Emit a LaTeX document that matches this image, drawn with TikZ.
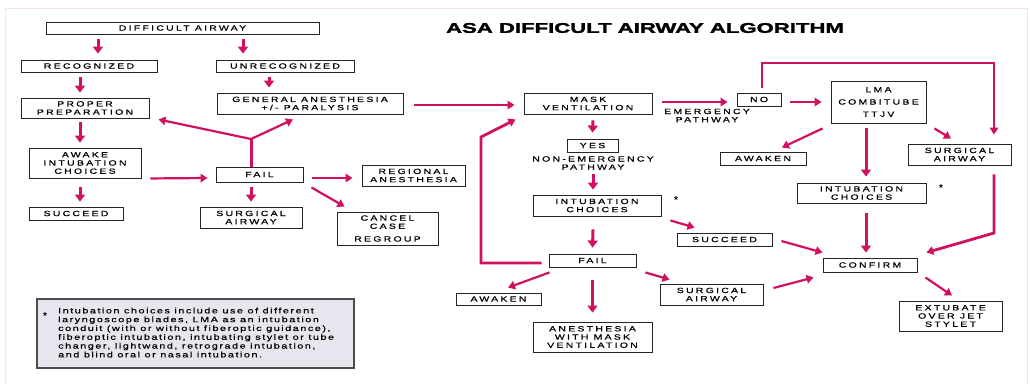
\documentclass[tikz,border=0pt]{standalone}
\usepackage{fontspec}
\setmainfont{Liberation Sans}
\newfontfamily\labelfont[LetterSpace=30,FakeStretch=1.4,FakeBold=0.8]{Liberation Sans}
\newfontfamily\notefont[LetterSpace=19,FakeStretch=1.4,FakeBold=0.5]{Liberation Sans}
\newfontfamily\titlefont[FakeStretch=1.58,FakeBold=2]{Liberation Sans Bold}
\usetikzlibrary{arrows.meta}
\definecolor{arrowpink}{RGB}{208,16,96}
\definecolor{notegrey}{RGB}{230,230,238}
\definecolor{framepink}{RGB}{245,228,240}

\begin{document}
\begin{tikzpicture}[x=1pt,y=-1pt,
    box/.style={draw=black!85, line width=0.9pt, rectangle, inner sep=0pt, align=center, font=\labelfont\fontsize{7.5}{8.2}\selectfont},
    plain/.style={inner sep=0pt, align=center, font=\labelfont\fontsize{7.5}{8.2}\selectfont},
    star/.style={inner sep=0pt, font=\bfseries\fontsize{10}{10}\selectfont},
    link/.style={draw=arrowpink, line width=2.2pt},
    arr/.style={link, -{Triangle[length=7pt,width=8.5pt]}},
    varr/.style={arr, line width=3pt, -{Triangle[length=7pt,width=10pt]}}]
    \useasboundingbox (0,0) rectangle (1030,384);
    \draw[framepink, line width=1pt] (5,384) -- (5,8) -- (1027,8) -- (1027,384);

    \node[font=\titlefont\fontsize{14}{14}\selectfont] (title) at (645,28) {ASA DIFFICULT AIRWAY ALGORITHM};

    % Left side
    \node[box, minimum width=273, minimum height=12] (difficult) at (182.5,28) {DIFFICULT AIRWAY};
    \node[box, minimum width=136, minimum height=12] (recognized) at (89,66) {RECOGNIZED};
    \node[box, minimum width=138, minimum height=12] (unrecognized) at (285,66) {UNRECOGNIZED};
    \node[box, minimum width=128, minimum height=20] (proper) at (85,108) {PROPER\\PREPARATION};
    \node[box, minimum width=112, minimum height=30] (awake) at (85,163) {AWAKE\\INTUBATION\\CHOICES};
    \node[box, minimum width=94, minimum height=13] (succeed1) at (76,213.5) {SUCCEED};
    \node[box, minimum width=186, minimum height=21] (general) at (310,103.5) {GENERAL ANESTHESIA\\+/- PARALYSIS};
    \node[box, minimum width=87, minimum height=15] (fail1) at (259.5,174.5) {FAIL};
    \node[box, minimum width=102, minimum height=21] (surgical1) at (251,217.5) {SURGICAL\\AIRWAY};
    \node[box, minimum width=103, minimum height=21] (regional) at (413.5,175.5) {REGIONAL\\ANESTHESIA};
    \node[box, minimum width=101, minimum height=33] (cancel) at (387.5,228.5) {CANCEL\\CASE\\[4.5pt]REGROUP};

    % Non-emergency pathway
    \node[box, minimum width=128, minimum height=21] (mask) at (588,103.5) {MASK\\VENTILATION};
    \node[box, minimum width=51, minimum height=13] (yes) at (592.5,145.5) {YES};
    \node[plain] (nonemergency) at (593,163) {NON-EMERGENCY\\PATHWAY};
    \node[box, minimum width=128, minimum height=21] (intub2) at (597,205.5) {INTUBATION\\CHOICES};
    \node[star] (star2) at (676,200) {*};
    \node[box, minimum width=87, minimum height=13] (fail2) at (592.5,260.5) {FAIL};
    \node[box, minimum width=85, minimum height=12] (awaken2) at (498.5,299) {AWAKEN};
    \node[box, minimum width=119, minimum height=30] (anesth) at (592.5,337) {ANESTHESIA\\WITH MASK\\VENTILATION};
    \node[box, minimum width=103, minimum height=21] (surgical2) at (711.5,294.5) {SURGICAL\\AIRWAY};
    \node[box, minimum width=95, minimum height=13] (succeed2) at (724.5,239.5) {SUCCEED};
    \node[box, minimum width=94, minimum height=14] (confirm) at (870,265) {CONFIRM};
    \node[box, minimum width=103, minimum height=30] (extubate) at (950.5,316) {EXTUBATE\\OVER JET\\STYLET};

    % Emergency pathway
    \node[box, minimum width=44, minimum height=13] (no) at (759,99.5) {NO};
    \node[plain] (emergency) at (707,115.5) {EMERGENCY\\PATHWAY};
    \node[box, minimum width=95, minimum height=42] (lma) at (878.5,102) {LMA\\[4pt]COMBITUBE\\[4pt]TTJV};
    \node[box, minimum width=86, minimum height=13] (awaken3) at (763,158.5) {AWAKEN};
    \node[box, minimum width=103, minimum height=21] (surgical3) at (959.5,154.5) {SURGICAL\\AIRWAY};
    \node[box, minimum width=129, minimum height=20] (intub3) at (861.5,193) {INTUBATION\\CHOICES};
    \node[star] (star3) at (941,188) {*};

    % Footnote
    \node[draw=black!70, line width=1.3pt, fill=notegrey, minimum width=317, minimum height=69, inner sep=0pt] (notebox) at (195.5,333.5) {};
    \node[star] (notestar) at (45,316) {*};
    \node[anchor=north west, inner sep=0pt, align=left, font=\notefont\fontsize{7.8}{8.8}\selectfont] (notetext) at (58,307.5) {Intubation choices include use of different\\laryngoscope blades, LMA as an intubation\\conduit (with or without fiberoptic guidance),\\fiberoptic intubation, intubating stylet or tube\\changer, lightwand, retrograde intubation,\\and blind oral or nasal intubation.};

    % Connectors, left side
    \draw[varr] ([xshift=-84.5pt,yshift=-5pt]difficult.south) -- ([xshift=9pt,yshift=6pt]recognized.north);
    \draw[varr] ([xshift=60.5pt,yshift=-5pt]difficult.south) -- ([xshift=-42pt,yshift=6pt]unrecognized.north);
    \draw[varr] ([xshift=-9pt,yshift=-5pt]recognized.south) -- ([xshift=-5pt,yshift=5pt]proper.north);
    \draw[varr] ([xshift=-16pt,yshift=-5pt]unrecognized.south) -- ([xshift=-41pt,yshift=5pt]general.north);
    \draw[varr] ([xshift=-5pt,yshift=-4pt]proper.south) -- ([xshift=-5pt,yshift=5pt]awake.north);
    \draw[varr] ([xshift=-5pt,yshift=-9pt]awake.south) -- ([xshift=4pt,yshift=5pt]succeed1.north);
    \draw[arr] ([xshift=9pt]awake.south east) -- ([xshift=-8pt,yshift=-3.5pt]fail1.west);
    \coordinate (fork1) at (251,139);
    \draw[link, line width=3pt] ([xshift=-8.5pt]fail1.north) -- (fork1);
    \draw[arr] (fork1) -- ([xshift=9pt,yshift=-1pt]proper.south east);
    \draw[arr] (fork1) -- ([xshift=-17pt,yshift=-5pt]general.south);
    \draw[varr] ([xshift=-8.5pt,yshift=-5pt]fail1.south) -- ([yshift=5pt]surgical1.north);
    \draw[arr] ([xshift=9pt,yshift=-3.5pt]fail1.east) -- ([xshift=-9pt,yshift=-2.5pt]regional.west);
    \draw[arr] ([xshift=8pt,yshift=-5pt]fail1.south east) -- ([xshift=8pt,yshift=5pt]cancel.north west);

    % Connectors, middle
    \draw[arr] ([xshift=11pt,yshift=-1.5pt]general.east) -- ([xshift=-9pt,yshift=-1.5pt]mask.west);
    \draw[varr] ([xshift=5pt,yshift=-6pt]mask.south) -- ([yshift=6pt]yes.north);
    \draw[varr] ([yshift=-4pt]nonemergency.south) -- ([xshift=-4pt,yshift=5pt]intub2.north);
    \draw[varr] ([xshift=-4pt,yshift=-13pt]intub2.south) -- ([yshift=6pt]fail2.north);
    \coordinate (loopbottom) at (481,263);
    \coordinate (looptop) at (481,137);
    \draw[arr, line width=2.8pt] ([xshift=-7pt,yshift=-2.5pt]fail2.west) -- (loopbottom) -- (looptop) -- ([xshift=-8pt,yshift=-5pt]mask.south west);
    \draw[arr] ([xshift=9pt,yshift=-4pt]intub2.south east) -- ([xshift=18pt,yshift=5pt]succeed2.north west);
    \draw[arr] ([xshift=1pt,yshift=-5pt]fail2.south west) -- ([xshift=9.5pt,yshift=5pt]awaken2.north);
    \draw[varr] ([yshift=-13pt]fail2.south) -- ([yshift=9pt]anesth.north);
    \draw[arr] ([xshift=9pt,yshift=-5pt]fail2.south east) -- ([xshift=10pt,yshift=4pt]surgical2.north west);
    \draw[arr] ([xshift=9pt,yshift=-1.5pt]succeed2.east) -- ([yshift=5pt]confirm.north west);
    \draw[arr] ([xshift=10pt,yshift=6.5pt]surgical2.east) -- ([xshift=-9pt,yshift=-5pt]confirm.south west);
    \draw[arr] ([xshift=8pt,yshift=-5pt]confirm.south east) -- ([xshift=1.5pt,yshift=5pt]extubate.north);

    % Connectors, right side
    \draw[arr] ([xshift=10pt,yshift=1.5pt]mask.east) -- ([xshift=-9pt,yshift=-2.5pt]no.west);
    \draw[arr] ([xshift=9pt,yshift=-2.5pt]no.east) -- ([xshift=-9pt]lma.west);
    \coordinate (noleft) at (762,63);
    \coordinate (noright) at (994,63);
    \draw[arr, line width=2.8pt] ([xshift=3pt,yshift=5pt]no.north) -- (noleft) -- (noright) -- ([xshift=34.5pt,yshift=9pt]surgical3.north);
    \draw[arr] ([xshift=-8pt,yshift=-5pt]lma.south west) -- ([xshift=19pt,yshift=4pt]awaken3.north);
    \draw[varr] ([xshift=-12.5pt,yshift=-5pt]lma.south) -- ([xshift=4.5pt,yshift=6pt]intub3.north);
    \draw[arr] ([xshift=8pt,yshift=-5pt]lma.south east) -- ([xshift=-8.5pt,yshift=5pt]surgical3.north);
    \draw[varr] ([xshift=4.5pt,yshift=-10pt]intub3.south) -- ([xshift=-4pt,yshift=5pt]confirm.north);
    \coordinate (rightcorner) at (994,233);
    \draw[arr, line width=2.8pt] ([xshift=34.5pt,yshift=-9pt]surgical3.south) -- (rightcorner) -- ([xshift=9pt,yshift=5pt]confirm.north east);
\end{tikzpicture}
\end{document}
